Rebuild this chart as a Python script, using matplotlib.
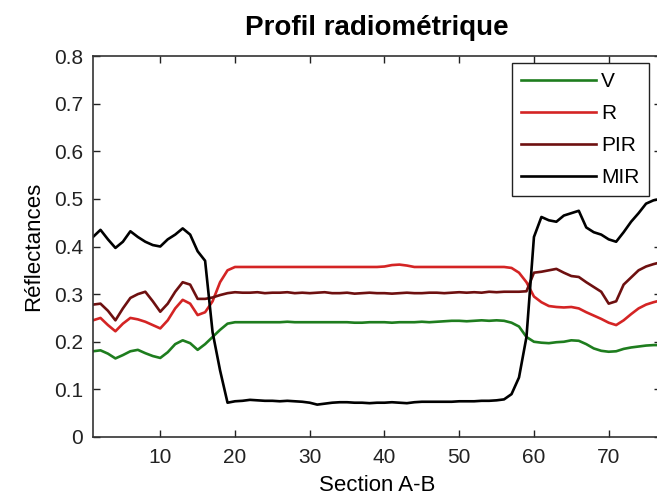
import numpy as np
import matplotlib
matplotlib.use('Agg')
import matplotlib.pyplot as plt

# abscisse le long de la section A-B
section = list(range(1, 78))

mir = [0.420, 0.435, 0.415, 0.397, 0.410, 0.432, 0.420, 0.410, 0.403, 0.400,
       0.415, 0.425, 0.438, 0.425, 0.390, 0.370, 0.220, 0.140, 0.072, 0.075,
       0.076, 0.078, 0.077, 0.076, 0.076, 0.075, 0.076, 0.075, 0.074, 0.072,
       0.068, 0.070, 0.072, 0.073, 0.073, 0.072, 0.072, 0.071, 0.072, 0.072,
       0.073, 0.072, 0.071, 0.073, 0.074, 0.074, 0.074, 0.074, 0.074, 0.075,
       0.075, 0.075, 0.076, 0.076, 0.077, 0.079, 0.090, 0.125, 0.210, 0.420,
       0.462, 0.455, 0.452, 0.465, 0.470, 0.475, 0.440, 0.430, 0.425, 0.415,
       0.410, 0.430, 0.452, 0.470, 0.490, 0.497, 0.500]

pir = [0.278, 0.280, 0.265, 0.245, 0.270, 0.292, 0.300, 0.305, 0.285, 0.263,
       0.280, 0.305, 0.325, 0.320, 0.290, 0.290, 0.293, 0.298, 0.302, 0.304,
       0.303, 0.303, 0.304, 0.302, 0.303, 0.303, 0.304, 0.302, 0.303, 0.302,
       0.303, 0.304, 0.302, 0.302, 0.303, 0.301, 0.302, 0.303, 0.302, 0.302,
       0.301, 0.302, 0.303, 0.302, 0.302, 0.303, 0.303, 0.302, 0.303, 0.304,
       0.303, 0.304, 0.303, 0.305, 0.304, 0.305, 0.305, 0.305, 0.306, 0.345,
       0.347, 0.350, 0.353, 0.345, 0.338, 0.336, 0.325, 0.315, 0.305, 0.280,
       0.285, 0.320, 0.335, 0.350, 0.358, 0.363, 0.367]

r = [0.245, 0.250, 0.235, 0.222, 0.238, 0.250, 0.247, 0.242, 0.235, 0.228,
     0.245, 0.270, 0.288, 0.280, 0.256, 0.262, 0.285, 0.325, 0.350, 0.357,
     0.357, 0.357, 0.357, 0.357, 0.357, 0.357, 0.357, 0.357, 0.357, 0.357,
     0.357, 0.357, 0.357, 0.357, 0.357, 0.357, 0.357, 0.357, 0.357, 0.358,
     0.361, 0.362, 0.360, 0.357, 0.357, 0.357, 0.357, 0.357, 0.357, 0.357,
     0.357, 0.357, 0.357, 0.357, 0.357, 0.357, 0.355, 0.345, 0.325, 0.295,
     0.283, 0.275, 0.273, 0.272, 0.273, 0.270, 0.262, 0.255, 0.248, 0.240,
     0.235, 0.245, 0.258, 0.270, 0.278, 0.283, 0.287]

v = [0.180, 0.182, 0.175, 0.165, 0.172, 0.180, 0.183, 0.176, 0.170, 0.166,
     0.178, 0.195, 0.203, 0.197, 0.183, 0.195, 0.210, 0.225, 0.238, 0.241,
     0.241, 0.241, 0.241, 0.241, 0.241, 0.241, 0.242, 0.241, 0.241, 0.241,
     0.241, 0.241, 0.241, 0.241, 0.241, 0.240, 0.240, 0.241, 0.241, 0.241,
     0.240, 0.241, 0.241, 0.241, 0.242, 0.241, 0.242, 0.243, 0.244, 0.244,
     0.243, 0.244, 0.245, 0.244, 0.245, 0.244, 0.240, 0.232, 0.210, 0.200,
     0.198, 0.197, 0.199, 0.200, 0.203, 0.202, 0.195, 0.186, 0.181, 0.179,
     0.180, 0.185, 0.188, 0.190, 0.192, 0.193, 0.193]

noms = ['V', 'R', 'PIR', 'MIR']
couleurs = ['#1e7d1e', '#d42424', '#6e1010', '#000000']
yticks = [0, 0.1, 0.2, 0.3, 0.4, 0.5, 0.6, 0.7, 0.8]
ylabels = ['0', '0.1', '0.2', '0.3', '0.4', '0.5', '0.6', '0.7', '0.8']
xticks = [10, 20, 30, 40, 50, 60, 70]


def main():
    plt.rcParams['font.family'] = ['Liberation Sans', 'DejaVu Sans']
    fig = plt.figure(figsize=(6.57, 4.97), dpi=100)
    ax = fig.add_axes([93 / 657, 60 / 497, 568 / 657, 381 / 497])

    for serie, nom, c in zip([v, r, pir, mir], noms, couleurs):
        ax.plot(section, serie, color=c, lw=1.9, label=nom)

    ax.set_xlim(1, 77)
    ax.set_ylim(0, 0.8)
    ax.set_yticks(yticks)
    ax.set_yticklabels(ylabels)
    ax.set_xticks(xticks)
    ax.tick_params(direction='in', length=5, width=1, top=True, right=True,
                   labelsize=15, colors='#222222')
    ax.tick_params(axis='y', pad=7)
    ax.tick_params(axis='x', pad=8)
    for s in ax.spines.values():
        s.set_linewidth(1.2)
        s.set_color('#333333')

    ax.set_title('Profil radiométrique', fontsize=20, fontweight='bold', pad=15)
    ax.set_xlabel('Section A-B', fontsize=16, labelpad=6)
    ax.set_ylabel('Réflectances', fontsize=16, labelpad=7)

    leg = ax.legend(loc='upper right', bbox_to_anchor=(0.979, 0.982),
                    borderaxespad=0, fontsize=15, fancybox=False,
                    edgecolor='#222222', framealpha=1, handlelength=3.6,
                    handletextpad=0.25, labelspacing=0.62, borderpad=0.45)
    leg.get_frame().set_linewidth(1.0)

    fig.savefig('out.png', dpi=100)


if __name__ == '__main__':
    main()
